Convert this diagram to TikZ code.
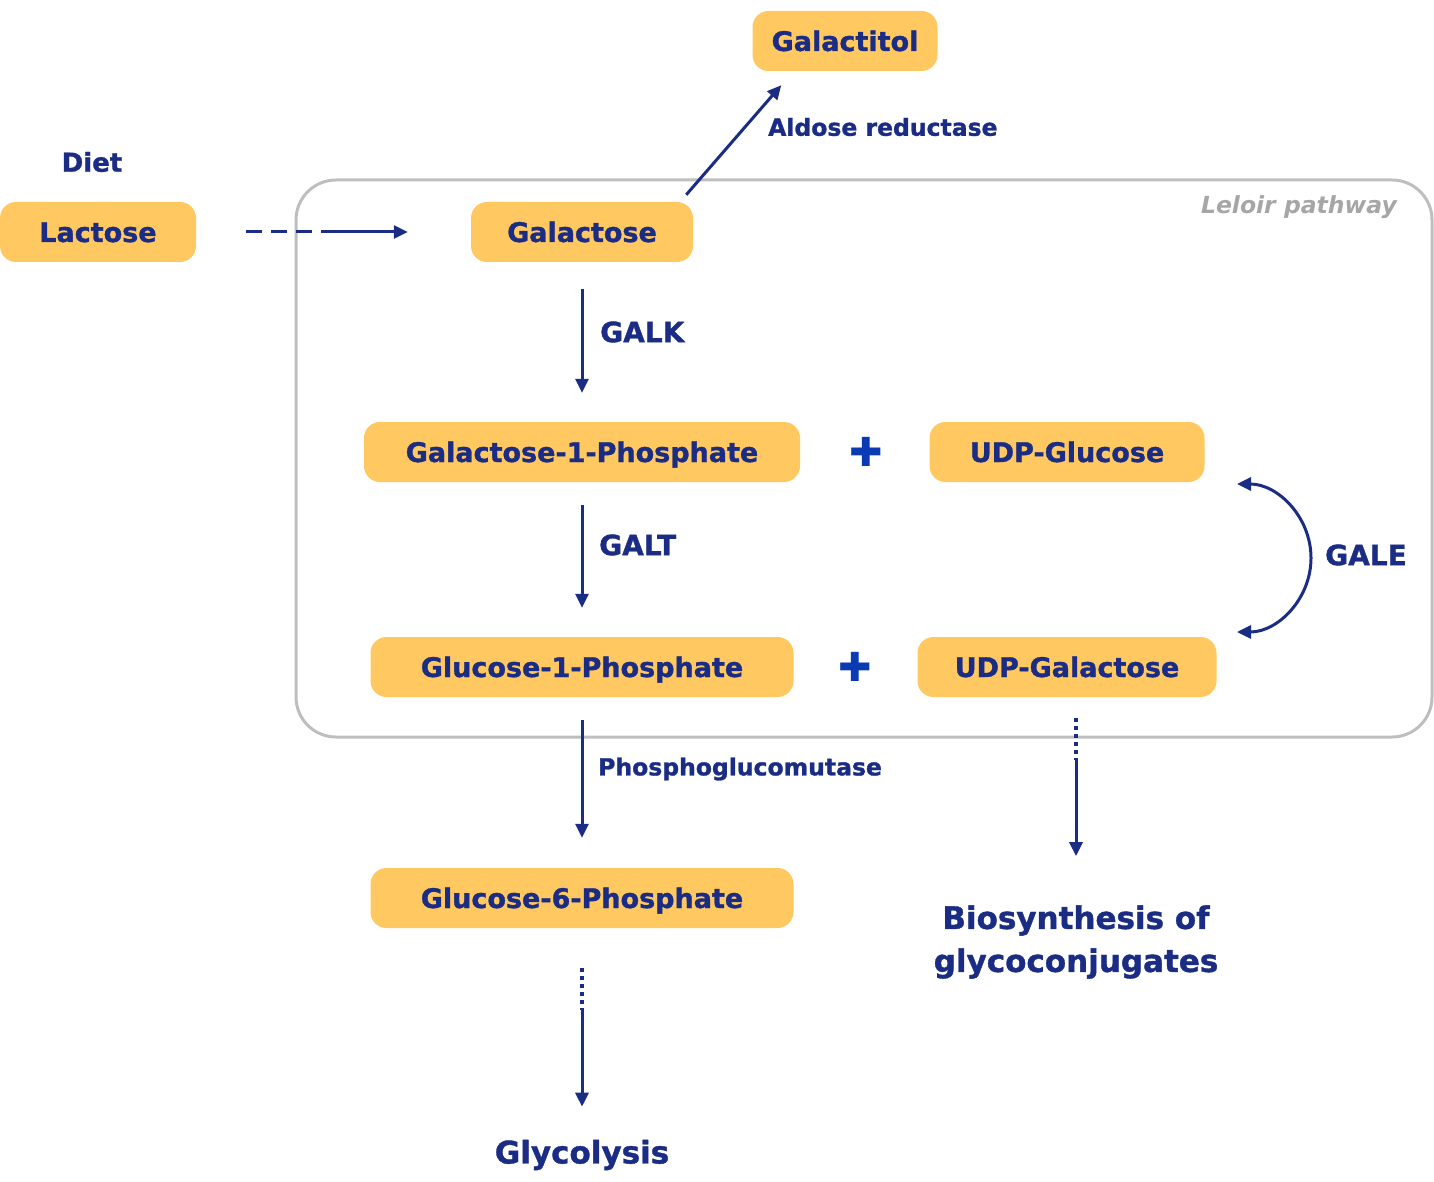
\documentclass[tikz,border=0pt]{standalone}
\usepackage{fontspec}
\setmainfont{DejaVu Sans}[BoldFeatures={FakeBold=1.2}]
\usetikzlibrary{arrows.meta}
\definecolor{navy}{HTML}{1B2C84}
\definecolor{plusblue}{HTML}{0A3BB5}
\definecolor{boxfill}{HTML}{FFC860}
\definecolor{framegray}{HTML}{BEBEBE}
\definecolor{labelgray}{HTML}{A6A6A6}

\tikzset{
  metabolite/.style={fill=boxfill, rounded corners=16pt, minimum height=60pt, inner sep=0pt,
    text height=26pt, text depth=6pt, text=navy, font=\fontsize{27}{32}\selectfont\bfseries},
  enzyme/.style={anchor=west, inner sep=0pt, text=navy, font=\fontsize{28}{34}\selectfont\bfseries},
  smallenzyme/.style={enzyme, font=\fontsize{23.5}{28}\selectfont\bfseries},
  outcome/.style={align=center, inner sep=0pt, text=navy, font=\fontsize{31}{43}\selectfont\bfseries},
  flow/.style={->, line width=3pt, draw=navy},
  dashflow/.style={line width=3pt, draw=navy, dash pattern=on 16pt off 9pt},
  dotflow/.style={line width=3.5pt, draw=navy, dash pattern=on 4pt off 4pt},
  plussign/.style={text=plusblue, inner sep=0pt, font=\fontsize{40}{40}\selectfont}
}

\begin{document}
\begin{tikzpicture}[line join=round,>={Triangle[length=14pt,width=13pt]},x=1pt,y=-1pt]
\useasboundingbox (0,0) rectangle (1434,1182);

\draw [line width=3pt, framegray, rounded corners=40pt] (296,180) rectangle (1432,737);
\node [anchor=east, inner sep=0pt, text=labelgray, font=\fontsize{23.5}{28}\selectfont\bfseries\itshape] (leloir) at (1397,207) {Leloir pathway};

\node [metabolite, minimum width=185pt] (galactitol) at (845,41) {Galactitol};
\node [metabolite, minimum width=196pt] (lactose) at (98,232) {Lactose};
\node [metabolite, minimum width=222pt] (galactose) at (582,232) {Galactose};
\node [metabolite, minimum width=436pt] (gal1p) at (582,452) {Galactose-1-Phosphate};
\node [metabolite, minimum width=275pt] (udpglc) at (1067,452) {UDP-Glucose};
\node [metabolite, minimum width=423pt] (glc1p) at (582,667) {Glucose-1-Phosphate};
\node [metabolite, minimum width=299pt] (udpgal) at (1067,667) {UDP-Galactose};
\node [metabolite, minimum width=423pt] (glc6p) at (582,898) {Glucose-6-Phosphate};

\node [plussign] (plusa) at (866,452) {✚};
\node [plussign] (plusb) at (855,667) {✚};

\node [inner sep=0pt, text=navy, font=\fontsize{26}{31}\selectfont\bfseries] (diet) at (92,162) {Diet};
\node [outcome] (biosynth) at (1076,942) {Biosynthesis of\\glycoconjugates};
\node [outcome] (glycolysis) at (582,1155) {Glycolysis};

\node [smallenzyme] (aldose) at (768,127) {Aldose reductase};
\node [enzyme] (galk) at (600,332) {GALK};
\node [enzyme] (galt) at (599,545) {GALT};
\node [enzyme] (gale) at (1325,555) {GALE};
\node [smallenzyme] (pgm) at (598,769) {Phosphoglucomutase};

\coordinate (dietbreak) at (325,232);
\draw [dashflow, shorten <=50pt] (lactose) -- (dietbreak);
\draw [flow, shorten >=63pt] (dietbreak) -- (galactose);

\draw [flow] ([xshift=-7pt,yshift=7pt]galactose.north east) -- ([xshift=29pt,yshift=-14pt]galactitol.south west);

\draw [flow, shorten <=27pt, shorten >=29pt] (galactose) -- (gal1p);
\draw [flow, shorten <=23pt, shorten >=29pt] (gal1p) -- (glc1p);
\draw [flow, shorten <=23pt, shorten >=30pt] (glc1p) -- (glc6p);

\coordinate (galetop) at (1237,484);
\coordinate (galebot) at (1237,632);
\draw [flow, <->] (galetop) arc [start angle=-90, end angle=90, radius=74];

\coordinate (bioa) at (1076,718);
\coordinate (biob) at (1076,760);
\draw [dotflow] (bioa) -- (biob);
\draw [flow, shorten >=49pt] (biob) -- (biosynth);

\coordinate (glyb) at (582,1010);
\draw [dotflow, shorten <=40pt] (glc6p) -- (glyb);
\draw [flow, shorten >=33pt] (glyb) -- (glycolysis);
\end{tikzpicture}
\end{document}
